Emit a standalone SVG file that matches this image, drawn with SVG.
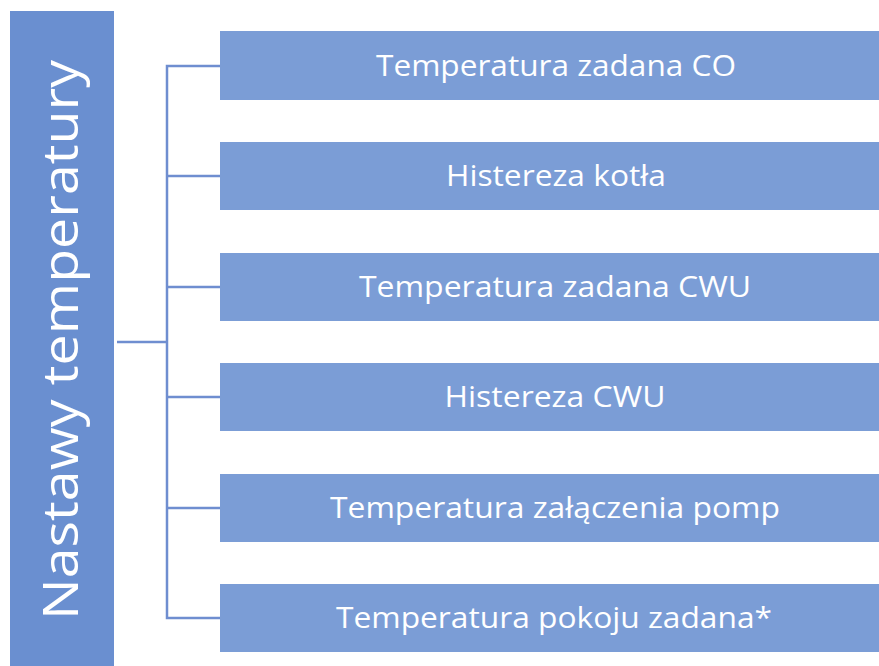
<svg xmlns="http://www.w3.org/2000/svg" width="879" height="666" viewBox="0 0 879 666">
<style>
.box{fill:#7b9dd6;}
.lbl{font-family:"Open Sans","Liberation Sans",sans-serif;font-size:29px;fill:#ffffff;text-anchor:middle;}
.con{stroke:#6f8ed0;stroke-width:2.5;fill:none;}
</style>
<rect width="879" height="666" fill="#ffffff"/>
<g id="root">
<rect x="10" y="11" width="104" height="655" fill="#6a8fd0"/>
<text transform="translate(78,340) rotate(-90)" font-family="'Open Sans','Liberation Sans',sans-serif" font-size="50" fill="#ffffff" text-anchor="middle" textLength="560" lengthAdjust="spacingAndGlyphs">Nastawy temperatury</text>
</g>
<g id="connectors">
<line class="con" x1="117" y1="342" x2="167" y2="342"/>
<polyline class="con" points="220,66 167,66 167,618 220,618"/>
<line class="con" x1="167" y1="176" x2="220" y2="176"/>
<line class="con" x1="167" y1="287" x2="220" y2="287"/>
<line class="con" x1="167" y1="397" x2="220" y2="397"/>
<line class="con" x1="167" y1="508" x2="220" y2="508"/>
</g>
<g id="n1"><rect class="box" x="220" y="31" width="659" height="69"/><text class="lbl" x="556" y="76" textLength="360" lengthAdjust="spacingAndGlyphs">Temperatura zadana CO</text></g>
<g id="n2"><rect class="box" x="220" y="142" width="659" height="68"/><text class="lbl" x="556" y="186" textLength="220" lengthAdjust="spacingAndGlyphs">Histereza kotła</text></g>
<g id="n3"><rect class="box" x="220" y="253" width="659" height="68"/><text class="lbl" x="555" y="297" textLength="392" lengthAdjust="spacingAndGlyphs">Temperatura zadana CWU</text></g>
<g id="n4"><rect class="box" x="220" y="363" width="659" height="68"/><text class="lbl" x="555" y="407" textLength="221" lengthAdjust="spacingAndGlyphs">Histereza CWU</text></g>
<g id="n5"><rect class="box" x="220" y="474" width="659" height="68"/><text class="lbl" x="555" y="518" textLength="450" lengthAdjust="spacingAndGlyphs">Temperatura załączenia pomp</text></g>
<g id="n6"><rect class="box" x="220" y="584" width="659" height="68"/><text class="lbl" x="554" y="628" textLength="436" lengthAdjust="spacingAndGlyphs">Temperatura pokoju zadana*</text></g>
</svg>
